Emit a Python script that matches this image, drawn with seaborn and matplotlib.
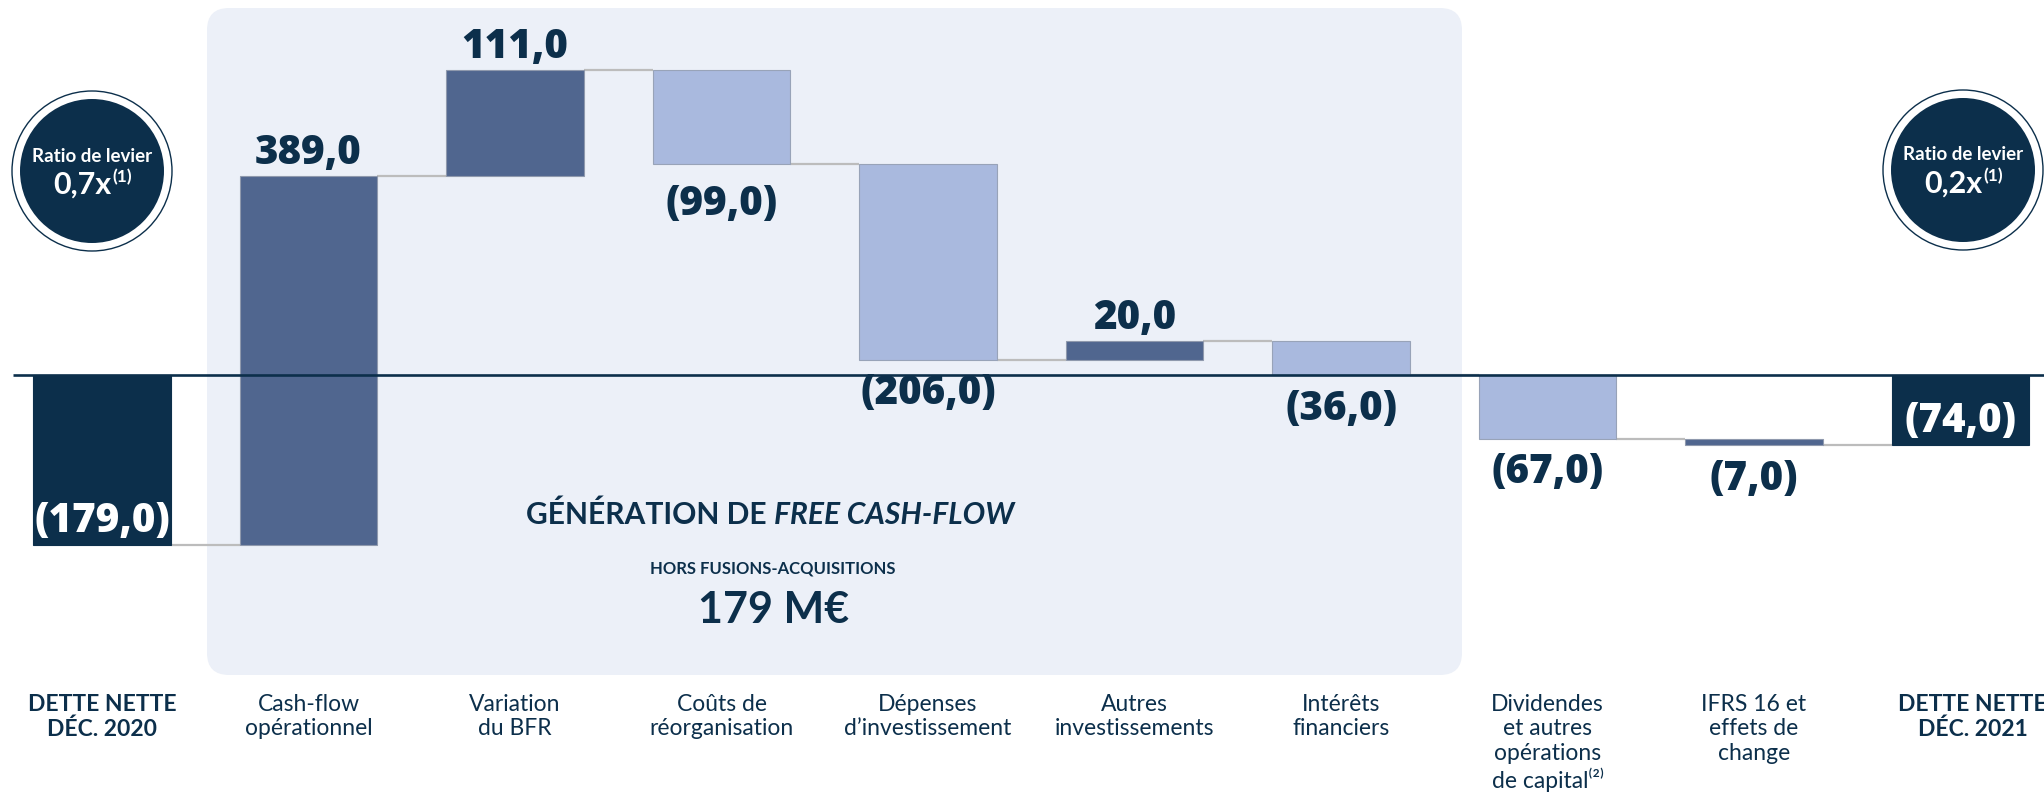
import numpy as np
import pandas as pd
import matplotlib
matplotlib.use("Agg")
import matplotlib.pyplot as plt
import seaborn as sns
from matplotlib.patches import FancyBboxPatch, Circle
from matplotlib.transforms import IdentityTransform

# ---------------- data ----------------
categories = [
    "DETTE NETTE\nDÉC. 2020",
    "Cash-flow\nopérationnel",
    "Variation\ndu BFR",
    "Coûts de\nréorganisation",
    "Dépenses\nd’investissement",
    "Autres\ninvestissements",
    "Intérêts\nfinanciers",
    "Dividendes\net autres\nopérations\nde capital⁽²⁾",
    "IFRS 16 et\neffets de\nchange",
    "DETTE NETTE\nDÉC. 2021",
]
values = [-179.0, 389.0, 111.0, -99.0, -206.0, 20.0, -36.0, -67.0, -7.0, -74.0]
kinds = ["total", "delta", "delta", "delta", "delta", "delta", "delta", "delta", "delta", "total"]
value_labels = ["(179,0)", "389,0", "111,0", "(99,0)", "(206,0)", "20,0", "(36,0)",
                "(67,0)", "(7,0)", "(74,0)"]
leverage_left = ["Ratio de levier", "0,7x", "(1)"]
leverage_right = ["Ratio de levier", "0,2x", "(1)"]
panel_title = ["GÉNÉRATION DE ", "FREE CASH-FLOW"]
panel_sub = "HORS FUSIONS-ACQUISITIONS"
panel_value = "179 M€"

# ---------------- styling ----------------
NAVY = "#0c2f4b"
POS = "#50668f"
NEG = "#a9b9de"
PANEL = "#ecf0f8"
CONNECT = "#bcbcbc"
W, H, DPI = 2044, 801, 100
# colour group of each bar, in bar order (style only)
bar_groups = ["total", "pos", "pos", "neg", "neg", "pos", "neg", "neg", "pos", "total"]

# waterfall bottoms
bottoms, heights, ends = [], [], []
cum = 0.0
for v, k in zip(values, kinds):
    if k == "total":
        bottoms.append(0.0)
        heights.append(v)
        cum = v
    else:
        bottoms.append(cum)
        heights.append(v)
        cum = cum + v
    ends.append(cum)

df = pd.DataFrame({"cat": categories, "height": heights, "bottom": bottoms,
                   "kind": kinds, "value": values, "group": bar_groups})

sns.set_theme(style="white")
plt.rcParams["font.family"] = ["Lato", "DejaVu Sans"]

fig = plt.figure(figsize=(W / DPI, H / DPI), dpi=DPI)
ax = fig.add_axes([0, 0, 1, 1])

# pixel geometry of the chart area
X0_PX, DX_PX = 102.0, 206.5     # center of first bar, spacing
Y0_PX, DY_PX = 375.0, 0.95      # zero line (from top), px per unit
BAR_W = 0.665

def px2x(px):
    return (px - X0_PX) / DX_PX

def py2y(py):
    return (Y0_PX - py) / DY_PX

# background panel (pixel coords)
ident = IdentityTransform()
panel = FancyBboxPatch((207, H - 675), 1462 - 207, 675 - 8,
                       boxstyle="round,pad=0,rounding_size=22",
                       facecolor=PANEL, edgecolor="none",
                       transform=ident, zorder=0)
ax.add_patch(panel)

# bars
colors = {"total": NAVY, "pos": POS, "neg": NEG}
edges = {"total": NAVY, "pos": "#8f99ad", "neg": "#98a3b8"}
for grp in ["total", "pos", "neg"]:
    sub = df[df["group"] == grp]
    sns.barplot(data=sub, x="cat", y="height", order=categories,
                color=colors[grp], saturation=1, width=BAR_W,
                bottom=sub["bottom"].to_numpy(), errorbar=None,
                edgecolor=edges[grp], linewidth=0.8, ax=ax, zorder=3)

ax.set_xlim(px2x(0), px2x(W))
ax.set_ylim(py2y(H), py2y(0))
ax.axis("off")

# zero line
ax.plot([px2x(13), px2x(W)], [0, 0], color=NAVY, lw=1.9, zorder=4,
        solid_capstyle="butt")

# connectors
for i in range(len(values) - 1):
    ax.plot([i + BAR_W / 2, i + 1 - BAR_W / 2], [ends[i], ends[i]],
            color=CONNECT, lw=1.6, zorder=2, solid_capstyle="butt")

# value labels
px_unit = 1.0 / DY_PX
VAL_FONT = dict(fontsize=29, fontweight="heavy", family=["Open Sans", "DejaVu Sans"], zorder=5)
for i, (v, k, lab) in enumerate(zip(values, kinds, value_labels)):
    if k == "total":
        ax.text(i, v + 24 * px_unit, lab, ha="center", va="center",
                color="white", **VAL_FONT)
    elif v >= 0:
        top = bottoms[i] + v
        ax.text(i, top + 22.5 * px_unit, lab, ha="center", va="center",
                color=NAVY, **VAL_FONT)
    else:
        bot = bottoms[i] + v
        off = 40 if i == 3 else 34
        ax.text(i, bot - off * px_unit, lab, ha="center", va="center",
                color=NAVY, **VAL_FONT)

# category labels
for i, (cat, k) in enumerate(zip(categories, kinds)):
    xoff = 12 if i == len(categories) - 1 else 0
    ax.text(i + xoff / DX_PX, py2y(694), cat, ha="center", va="top", color=NAVY,
            fontsize=16.5, linespacing=1.2,
            fontweight="bold" if k == "total" else "normal",
            family=["Lato", "DejaVu Sans"], zorder=5)

# panel texts
t1 = ax.text(px2x(526), py2y(515), panel_title[0], ha="left", va="center",
             color=NAVY, fontsize=21.6, fontweight="bold", zorder=5)
ax.annotate(panel_title[1], xy=(1, 0), xycoords=t1, ha="left", va="bottom",
            color=NAVY, fontsize=21.6, fontweight="bold", style="italic", zorder=5)
ax.text(px2x(773), py2y(568), panel_sub, ha="center", va="center",
        color=NAVY, fontsize=12, fontweight="bold", zorder=5)
ax.text(px2x(774), py2y(610), panel_value, ha="center", va="center",
        color=NAVY, fontsize=31, fontweight="bold", zorder=5)

# leverage circles (pixel coords)
for (cxp, cyp), texts in [((92, 171), leverage_left), ((1963, 170), leverage_right)]:
    ring = Circle((cxp, H - cyp), 80, facecolor="white", edgecolor=NAVY,
                  lw=1.0, transform=ident, zorder=6)
    disk = Circle((cxp, H - cyp), 72, facecolor=NAVY, edgecolor="none",
                  transform=ident, zorder=7)
    ax.add_patch(ring)
    ax.add_patch(disk)
    ax.text(px2x(cxp), py2y(cyp - 15), texts[0], ha="center", va="center",
            color="white", fontsize=13.5, fontweight="bold", zorder=8)
    m = ax.text(px2x(cxp - 10), py2y(cyp + 14), texts[1], ha="center", va="center",
                color="white", fontsize=22, fontweight="bold", zorder=8)
    ax.annotate(texts[2], xy=(1.02, 0.5), xycoords=m, ha="left", va="bottom",
                color="white", fontsize=12.5, fontweight="bold", zorder=8)

fig.savefig("out.png", dpi=DPI)
